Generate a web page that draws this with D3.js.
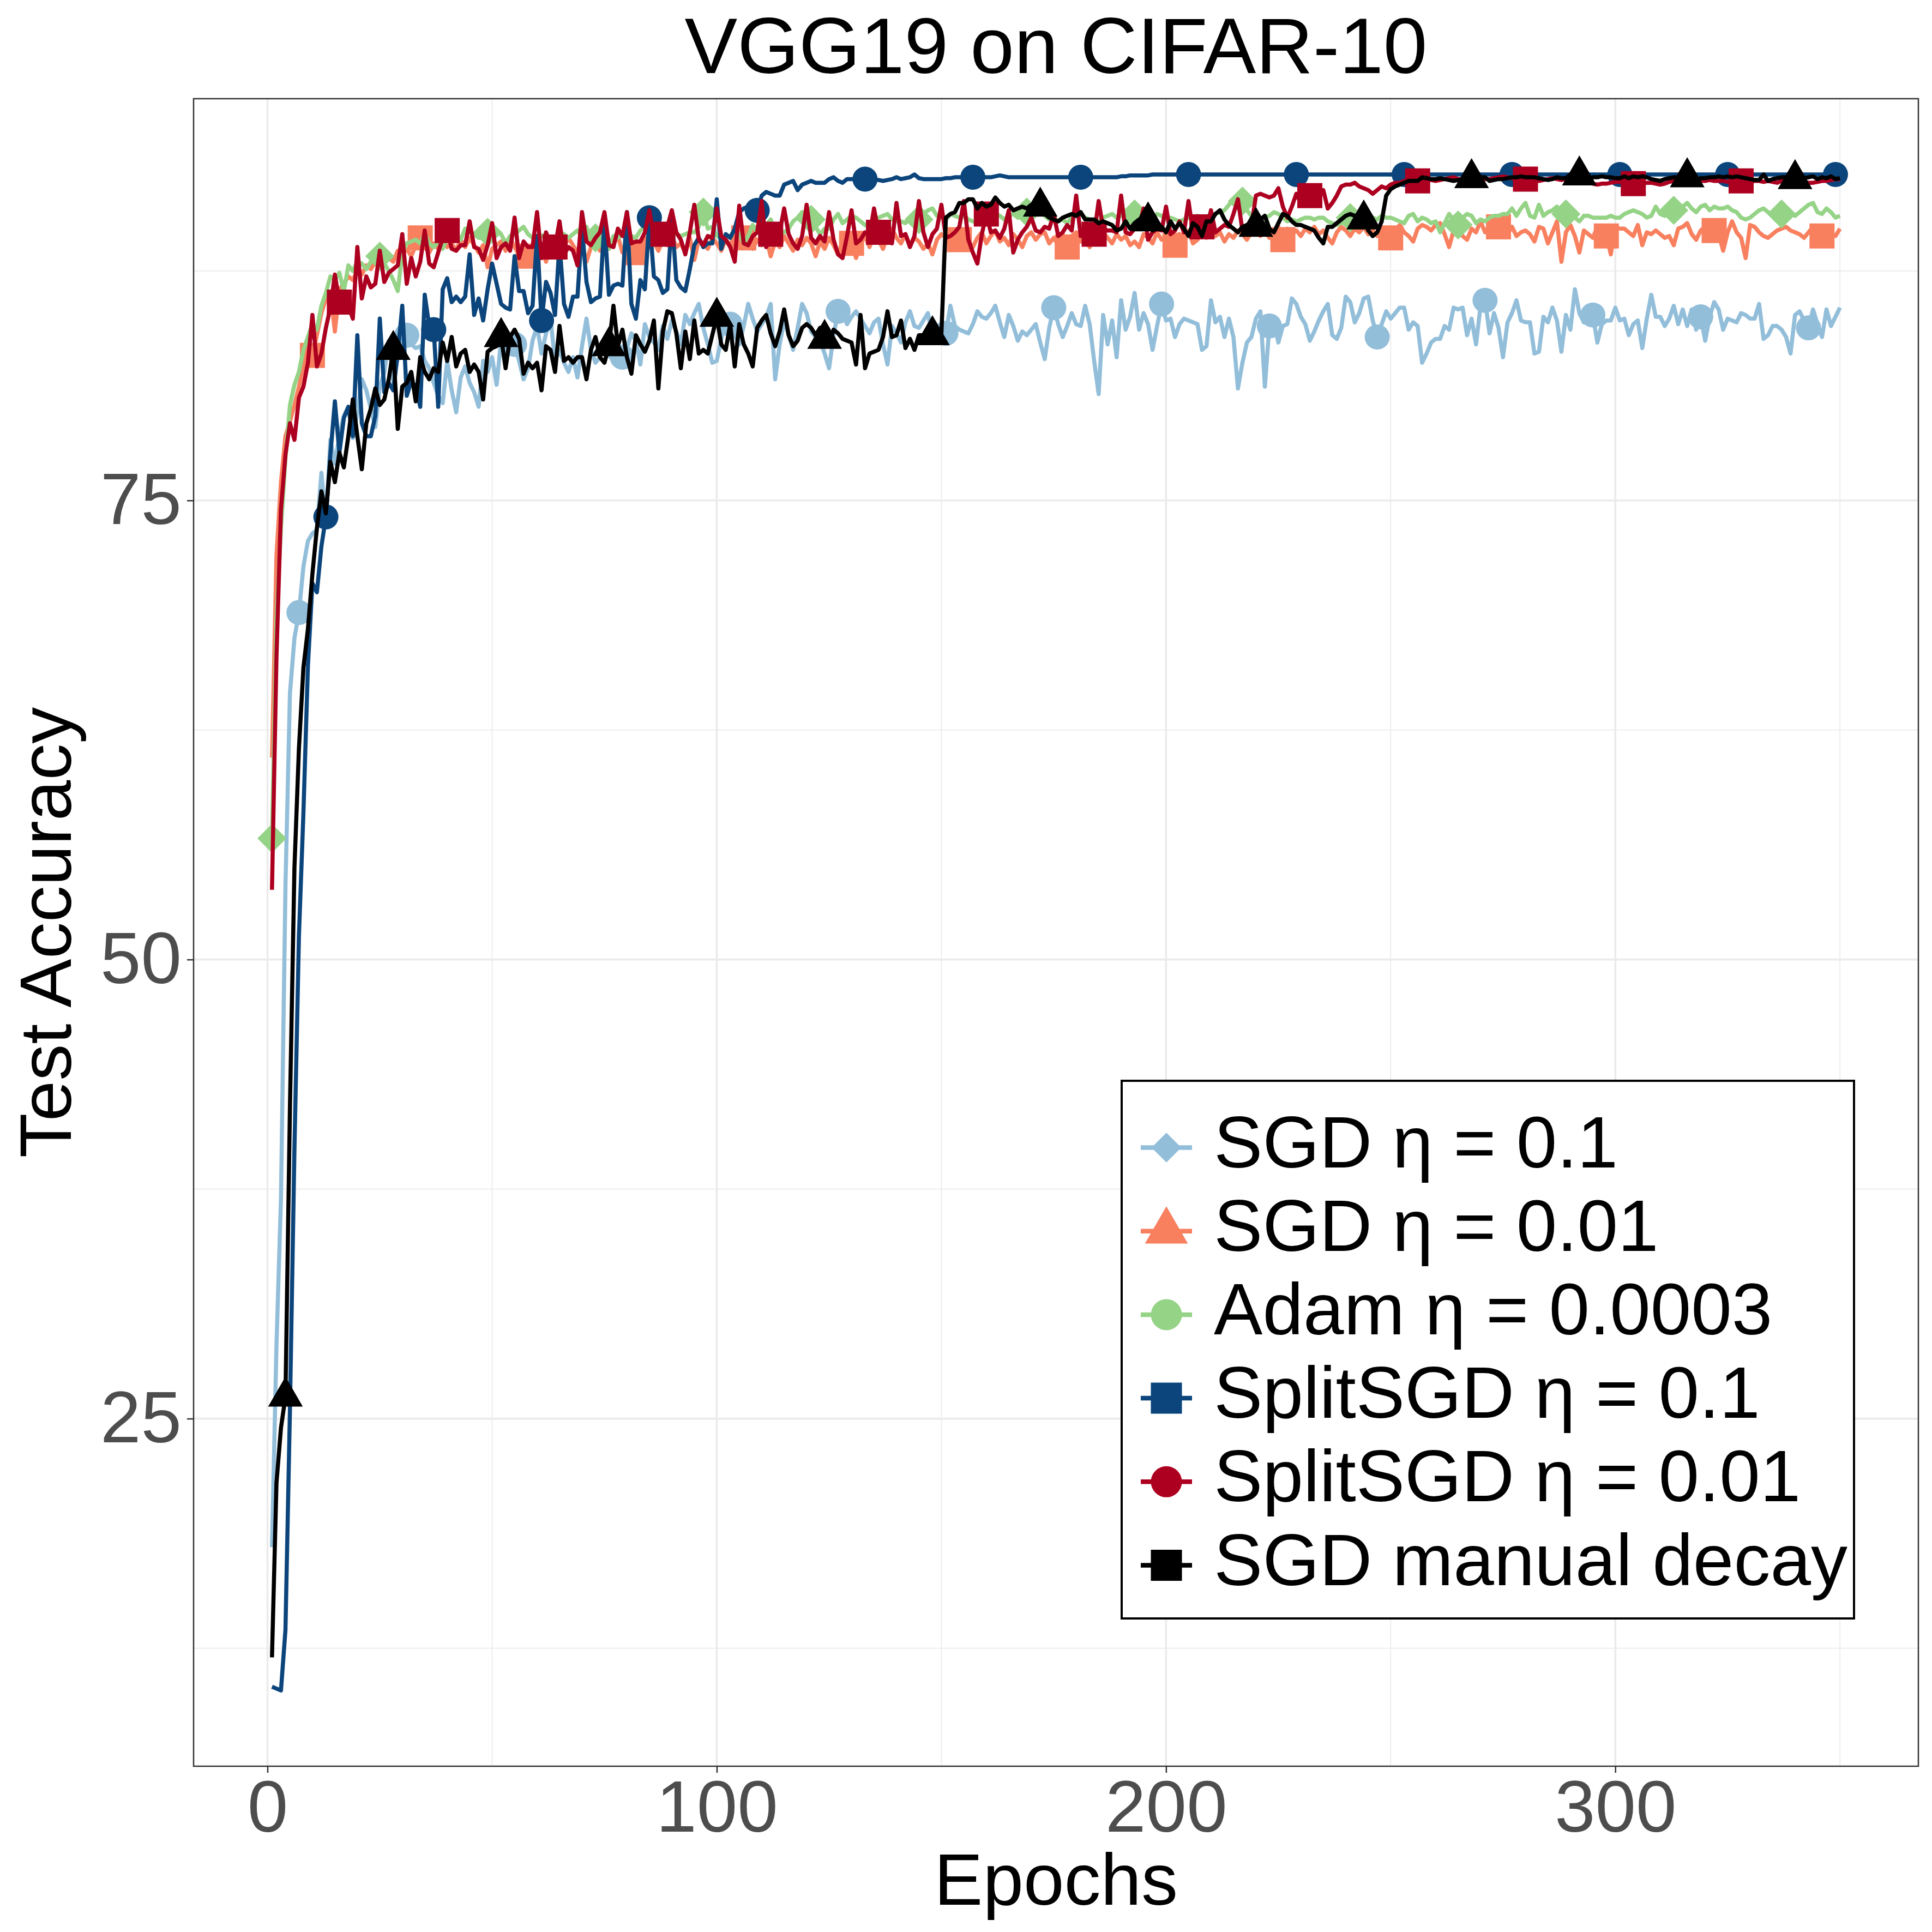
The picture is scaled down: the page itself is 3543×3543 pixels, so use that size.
<!DOCTYPE html>
<html>
<head>
<meta charset="utf-8">
<script src="https://cdn.jsdelivr.net/npm/d3@7"></script>
<style>
  html, body { margin: 0; padding: 0; background: #fff; }
  text { font-family: "Liberation Sans", Arial, Helvetica, sans-serif; }
</style>
</head>
<body>
<svg id="chart"></svg>
<script>
// test accuracy per epoch (1..350)
const sgd01 = [
  18,29,37,54,64.5,67.5,68.9,71.4,72.8,73.2,
  73.4,76.5,73.7,78.3,77.0,78.5,79.6,80.1,78.4,79.8,
  81.6,81.0,80.0,79.0,81.2,82.0,83.7,81.5,82.8,83.2,
  84.0,83.5,83.3,83.4,82.6,82.2,81.4,80.7,80.3,82.6,
  81.0,79.8,81.7,82.3,81.4,80.9,80.1,82.6,82.0,82.8,
  81.3,83.7,83.0,83.8,83.5,82.6,81.6,82.2,83.7,84.5,
  83.0,84.1,84.9,82.6,83.2,82.5,82.0,82.8,81.7,83.4,
  84.9,83.2,82.5,82.8,83.5,82.9,82.6,83.0,82.8,83.3,
  84.1,83.7,82.4,84.6,83.9,83.6,83.2,84.5,83.8,84.8,
  84.2,83.5,85.1,84.6,85.2,85.7,84.4,83.5,82.5,82.6,
  83.8,84.9,84.6,84.0,83.5,84.5,85.7,84.9,84.2,84.6,
  85.0,85.7,81.6,83.5,84.8,84.0,83.2,84.4,85.7,85.2,
  84.2,83.9,83.7,83.0,82.2,84.0,85.3,85.2,84.6,85.0,
  85.3,84.9,84.5,84.1,84.7,84.9,83.5,82.4,84.5,84.1,
  83.6,84.7,85.3,84.5,84.4,84.8,85.2,84.0,84.4,84.6,
  84.1,85.6,84.5,84.3,84.2,84.1,84.6,85.3,85.0,84.9,
  85.2,85.6,84.7,83.9,85.1,84.5,83.7,84.2,84.0,84.3,
  84.6,83.6,82.7,84.4,85.5,84.6,83.9,84.5,85.2,84.6,
  84.5,85.6,84.6,82.6,80.8,85.1,83.5,84.8,82.8,85.9,
  84.3,85.0,86.3,84.3,85.2,84.6,83.2,84.5,85.7,84.8,
  84.9,83.9,84.6,84.9,84.8,84.7,84.6,83.2,83.4,85.9,
  84.7,85.0,83.9,84.9,83.9,81.1,82.5,83.6,83.9,84.9,
  85.3,81.2,84.5,84.7,83.6,84.5,84.6,86.0,85.7,85.0,
  84.6,83.7,84.2,84.8,85.3,85.7,84.0,83.8,84.4,86.1,
  85.8,84.7,85.2,86.0,86.1,84.8,83.9,84.6,85.3,84.9,
  85.2,85.5,85.5,84.3,84.7,84.5,82.5,83.0,83.6,83.8,
  83.8,84.5,84.3,85.5,85.4,85.5,84.0,84.9,83.5,85.6,
  85.9,84.1,85.2,84.4,82.8,84.7,85.2,85.9,84.8,84.7,
  84.7,83.0,83.1,85.0,84.7,85.5,84.8,83.1,85.1,84.3,
  86.5,85.2,84.7,85.1,85.1,83.6,84.6,84.8,84.8,85.5,
  84.8,84.9,84.0,84.6,84.8,83.3,84.9,86.2,85.0,85.0,
  84.5,84.9,85.6,84.6,85.4,84.5,85.4,84.3,85.0,83.7,
  85.0,85.8,85.4,84.3,84.9,84.8,84.7,85.2,85.1,84.9,
  84.9,85.7,83.8,84.0,84.5,84.5,84.3,83.9,83.0,85.1,
  85.3,84.8,84.4,85.4,84.6,83.9,85.4,84.5,85.0,85.5
];

const sgd001 = [
  61,72,76,78.5,79.3,80.2,81.2,82.3,82.6,82.9,
  84.0,85.2,86.0,86.3,84.2,86.5,86.8,87.2,87.0,87.5,
  87.3,87.8,87.6,88.0,88.3,87.9,88.2,88.0,88.6,88.4,
  88.7,88.3,88.9,89.3,88.8,88.5,89.0,88.7,89.2,88.8,
  89.0,88.6,89.2,88.8,89.3,88.9,88.5,88.9,87.7,88.7,
  88.9,89.1,88.6,89.3,88.8,88.4,89.0,88.3,88.9,89.2,
  88.7,88.0,89.0,88.6,89.2,88.8,89.3,88.9,88.5,89.0,
  88.0,88.8,89.2,88.6,89.1,88.7,89.0,89.4,88.5,88.9,
  89.2,88.5,88.9,89.3,88.8,89.1,88.6,89.2,88.9,89.4,
  88.8,89.0,88.5,89.3,88.1,89.2,89.0,88.7,89.3,89.0,
  88.6,89.2,88.9,89.4,88.8,89.3,89.0,88.7,89.2,88.9,
  89.3,88.3,89.1,88.8,89.4,89.0,88.6,89.2,88.9,89.3,
  89.0,88.3,89.1,88.7,89.3,88.9,88.4,89.1,88.8,89.0,
  88.2,89.0,89.4,88.8,89.5,89.2,88.7,89.4,89.8,89.3,
  89.0,89.5,88.9,89.3,89.1,88.7,89.0,88.4,89.2,89.5,
  89.3,88.9,89.4,89.2,89.6,89.1,88.8,89.3,89.6,89.0,
  89.4,89.7,89.1,89.3,88.9,89.5,89.2,88.8,89.4,89.6,
  89.2,89.5,89.6,89.0,89.3,88.9,89.5,88.8,89.4,89.6,
  89.1,89.3,88.8,89.4,89.0,89.6,89.3,89.0,89.5,89.2,
  89.4,88.9,89.1,88.8,89.5,89.3,89.0,89.6,89.2,89.4,
  89.0,88.9,89.5,89.3,89.7,89.0,89.2,89.6,89.3,89.8,
  89.4,89.6,89.1,89.5,89.3,89.7,89.5,89.2,89.6,89.8,
  89.4,89.7,89.3,89.6,89.9,89.2,89.8,89.5,89.7,89.4,
  89.8,89.6,89.9,89.5,89.7,89.3,89.0,89.6,89.9,89.7,
  89.4,89.8,89.6,89.9,89.5,89.7,89.4,89.8,89.6,89.3,
  89.7,90.0,89.6,89.4,89.1,89.8,90.0,89.9,89.7,90.0,
  90.1,89.5,88.8,89.7,89.9,89.4,89.2,89.8,89.6,90.2,
  89.6,90.0,89.7,89.9,89.8,89.5,89.9,89.4,89.6,89.7,
  89.5,89.1,89.9,89.8,89.0,89.6,90.2,88.0,89.6,90.0,
  89.4,88.5,89.7,89.5,89.3,89.9,89.6,89.4,88.4,89.9,
  89.8,89.8,89.6,89.4,90.0,88.9,89.6,89.5,89.7,89.5,
  89.3,89.4,88.9,89.8,89.9,90.1,89.5,89.2,89.7,89.9,
  90.0,89.7,89.5,88.6,89.6,90.2,89.6,89.3,88.2,90.0,
  89.9,89.6,89.4,89.3,89.5,89.7,89.8,89.9,89.7,89.6,
  89.5,89.3,89.6,89.9,89.5,89.4,89.6,89.5,89.4,89.8
];

const adam = [
  56.6,68.5,73.5,77.3,80.2,81.3,82.0,83.2,83.9,84.6,
  84.3,85.6,86.3,87.2,87.0,87.4,86.4,87.8,87.5,88.0,
  87.9,87.6,88.0,88.2,88.3,87.9,87.5,87.0,86.4,88.5,
  89.0,89.1,89.2,89.0,89.5,89.0,88.8,89.1,88.7,89.3,
  89.4,89.5,89.2,89.8,89.6,89.5,89.3,89.3,89.6,89.8,
  89.7,89.5,89.0,89.4,89.5,89.7,89.9,89.5,89.3,89.1,
  89.4,89.5,89.2,89.0,89.6,89.5,89.3,89.5,89.7,89.4,
  89.9,89.1,89.3,89.6,89.8,88.7,89.4,89.3,89.5,89.6,
  89.4,89.3,89.7,89.9,89.6,89.5,89.3,89.4,89.9,89.6,
  89.5,89.4,89.5,89.6,89.6,89.9,90.7,89.8,89.9,89.4,
  89.3,89.3,89.4,89.7,89.5,89.0,89.4,90.0,89.6,89.5,
  90.0,90.3,89.6,89.5,89.6,89.8,90.2,90.4,90.7,90.4,
  90.3,89.9,89.5,89.8,89.8,90.3,90.6,90.1,90.3,90.5,
  90.4,90.2,90.0,89.9,90.3,90.4,90.5,90.6,90.3,90.2,
  90.2,90.1,90.4,90.5,90.3,90.6,90.8,90.9,90.5,90.4,
  90.3,90.6,90.5,90.4,90.5,90.3,90.2,90.1,90.4,90.5,
  90.4,90.6,90.5,90.3,90.5,90.6,90.4,90.5,90.7,90.6,
  90.6,90.8,90.5,90.3,90.4,90.2,90.3,90.1,90.4,90.5,
  90.6,90.4,90.3,90.2,90.2,90.4,90.5,90.6,90.4,90.5,
  90.7,90.8,90.6,90.3,90.5,90.6,90.4,90.6,90.5,90.3,
  90.4,90.3,90.2,90.3,90.4,90.4,90.5,90.3,90.4,90.6,
  90.6,90.7,90.8,91.1,91.4,91.2,91.3,90.8,90.5,90.4,
  90.3,90.4,90.5,90.7,90.6,90.4,90.2,90.3,90.2,90.3,
  90.4,90.4,90.3,90.4,90.4,90.2,90.1,90.0,90.1,90.3,
  90.4,90.3,90.2,90.4,90.6,90.4,90.3,90.5,90.4,90.4,
  90.3,90.2,90.1,90.5,90.6,90.2,90.4,90.3,90.1,90.2,
  89.6,90.1,90.6,90.3,90.0,90.4,90.6,90.5,90.1,90.3,
  90.2,90.4,90.5,90.5,90.6,90.6,90.9,90.5,90.9,91.2,
  90.5,90.4,91.1,90.5,90.7,90.8,91.0,90.6,90.6,90.4,
  90.4,90.2,90.5,90.5,90.4,90.4,90.4,90.4,90.5,90.4,
  90.4,90.6,90.7,90.8,90.7,90.6,90.4,90.5,91.0,90.6,
  90.5,90.6,90.8,90.9,91.0,91.2,90.9,90.7,91.0,91.1,
  90.8,91.0,90.9,90.9,91.0,90.8,90.7,90.4,90.3,90.4,
  90.6,90.8,90.9,90.7,90.6,90.5,90.6,90.9,90.7,90.5,
  90.7,90.9,91.1,91.2,90.7,90.6,90.9,90.7,90.4,90.5
];

const split01 = [
  10.4,10.3,10.2,13.5,25.5,39.7,51.3,58.0,66.0,70.5,
  70.0,72.5,74.1,77.5,80.4,77.6,79.5,80.1,78.5,84.0,
  79.2,78.5,78.5,79.6,84.9,80.9,81.4,81.0,83.0,85.6,
  80.7,81.5,81.2,80.1,86.2,84.5,84.3,80.1,86.5,87.1,
  85.8,86.1,85.8,86.1,88.4,85.1,86.0,84.8,86.5,87.9,
  86.8,85.7,85.5,85.4,88.3,86.4,86.4,85.2,85.6,89.4,
  84.8,86.9,86.3,85.1,89.0,85.7,85.0,86.1,86.1,89.9,
  86.9,85.8,86.0,86.1,90.2,86.2,86.7,86.8,86.7,90.7,
  85.7,84.9,87.0,86.5,90.4,87.2,87.0,86.3,86.5,90.4,
  87.0,86.6,86.4,87.6,88.9,89.3,88.8,89.0,89.0,91.4,
  88.7,89.5,89.3,89.8,90.7,90.9,91.0,90.8,90.8,91.6,
  91.8,91.7,91.6,91.6,92.2,92.3,92.4,91.9,92.2,92.3,
  92.4,92.3,92.3,92.3,92.5,92.6,92.4,92.3,92.5,92.5,
  92.5,92.2,92.5,92.5,92.45,92.45,92.4,92.45,92.5,92.6,
  92.5,92.55,92.6,92.75,92.55,92.5,92.5,92.5,92.5,92.5,
  92.55,92.55,92.6,92.6,92.6,92.6,92.6,92.65,92.6,92.6,
  92.6,92.65,92.7,92.65,92.6,92.6,92.6,92.6,92.6,92.6,
  92.6,92.6,92.6,92.6,92.6,92.6,92.6,92.6,92.6,92.6,
  92.6,92.6,92.6,92.6,92.6,92.6,92.6,92.6,92.6,92.65,
  92.65,92.7,92.7,92.7,92.7,92.7,92.75,92.75,92.75,92.75,
  92.75,92.75,92.75,92.75,92.75,92.75,92.75,92.75,92.75,92.75,
  92.75,92.75,92.75,92.75,92.75,92.75,92.75,92.75,92.75,92.75,
  92.75,92.75,92.75,92.75,92.75,92.75,92.75,92.75,92.75,92.75,
  92.75,92.75,92.75,92.75,92.75,92.75,92.75,92.75,92.75,92.75,
  92.75,92.75,92.75,92.75,92.75,92.75,92.75,92.75,92.75,92.75,
  92.75,92.75,92.75,92.75,92.75,92.75,92.75,92.75,92.75,92.75,
  92.75,92.75,92.75,92.75,92.75,92.75,92.75,92.75,92.75,92.75,
  92.75,92.75,92.75,92.75,92.75,92.75,92.75,92.75,92.75,92.75,
  92.75,92.75,92.75,92.75,92.75,92.75,92.75,92.75,92.75,92.75,
  92.75,92.75,92.75,92.75,92.75,92.75,92.75,92.75,92.75,92.75,
  92.75,92.75,92.75,92.75,92.75,92.75,92.75,92.75,92.75,92.75,
  92.75,92.75,92.75,92.75,92.75,92.75,92.75,92.75,92.75,92.75,
  92.75,92.75,92.75,92.75,92.75,92.75,92.75,92.75,92.75,92.75,
  92.75,92.75,92.75,92.75,92.75,92.75,92.75,92.75,92.75,92.75,
  92.75,92.75,92.75,92.75,92.75,92.75,92.75,92.75,92.75,92.75
];

const split001 = [
  53.8,66.5,74.5,77.5,79.2,78.3,80.6,81.2,82.5,85.1,
  82.3,83.0,84.4,85.5,87.3,85.8,85.9,85.6,84.9,88.8,
  86.0,87.2,86.6,86.8,88.6,86.9,87.4,87.6,87.8,89.5,
  86.8,88.2,87.2,88.0,89.7,87.9,87.7,88.5,89.3,89.7,
  88.7,88.6,88.9,88.9,90.2,88.8,88.7,88.1,88.9,90.1,
  88.2,88.8,89.0,88.6,90.4,88.2,89.1,88.8,88.8,90.7,
  88.2,89.6,88.9,88.8,90.2,88.4,88.8,88.6,87.8,90.7,
  89.1,88.9,89.3,89.6,90.7,88.9,88.8,89.8,89.4,90.7,
  89.0,89.1,89.1,89.6,90.8,89.3,89.0,89.5,89.9,90.8,
  89.6,89.2,88.4,89.6,91.1,89.2,88.9,89.4,89.3,90.9,
  89.4,89.2,88.8,88.0,91.05,89.0,88.9,89.4,89.6,91.3,
  88.8,89.5,89.3,89.6,90.9,89.5,89.0,88.7,89.4,91.1,
  89.3,89.0,89.4,89.1,90.7,89.2,88.4,88.2,89.4,90.8,
  89.0,89.2,89.6,89.4,90.9,89.6,89.5,89.6,89.0,91.2,
  89.4,89.5,88.8,89.4,91.3,89.6,88.8,89.5,89.8,91.1,
  89.3,89.4,89.6,89.9,91.3,89.2,88.5,87.9,89.5,90.6,
  89.6,89.7,89.3,89.8,90.8,88.5,89.2,89.6,89.9,90.4,
  89.7,89.6,89.9,89.8,90.6,89.4,89.6,90.0,89.7,91.6,
  89.4,90.0,89.8,89.5,91.3,89.8,89.7,89.7,89.6,91.6,
  89.6,89.5,89.8,89.9,90.9,89.2,89.6,89.8,89.7,91.0,
  89.5,89.7,90.2,89.6,91.3,89.6,89.9,89.9,89.8,90.8,
  89.6,89.8,90.0,89.9,90.6,91.4,89.7,90.0,89.9,91.6,
  91.7,91.6,91.5,91.6,92.0,91.0,90.4,91.0,91.7,91.2,
  91.3,91.6,91.5,91.6,91.9,90.9,91.2,91.6,92.1,92.2,
  92.2,92.3,92.1,92.0,91.9,91.7,91.9,92.1,92.0,92.2,
  92.3,92.3,92.4,92.3,92.55,92.4,92.5,92.45,92.45,92.4,
  92.45,92.5,92.55,92.6,92.5,92.5,92.45,92.5,92.55,92.5,
  92.5,92.5,92.55,92.6,92.65,92.6,92.55,92.5,92.55,92.5,
  92.5,92.45,92.4,92.45,92.5,92.55,92.5,92.45,92.5,92.55,
  92.5,92.45,92.4,92.35,92.25,92.2,92.25,92.25,92.3,92.35,
  92.35,92.3,92.3,92.25,92.2,92.25,92.3,92.3,92.25,92.2,
  92.25,92.35,92.4,92.4,92.35,92.35,92.4,92.35,92.4,92.4,
  92.45,92.4,92.4,92.4,92.35,92.4,92.45,92.4,92.35,92.35,
  92.4,92.4,92.35,92.4,92.35,92.3,92.4,92.45,92.4,92.35,
  92.4,92.35,92.3,92.3,92.35,92.4,92.4,92.45,92.5,92.5
];

const manual = [
  12.0,21.5,24.5,26.2,42.0,55.0,61.5,65.9,68.0,71.0,
  73.5,75.5,74.3,77.1,76.0,77.6,76.8,78.5,80.5,78.5,
  76.7,79.2,80.0,81.1,80.2,80.5,81.6,83.2,78.9,81.2,
  81.4,82.0,80.4,82.8,82.0,81.6,82.2,82.0,83.6,82.6,
  83.9,82.3,83.0,83.2,82.0,82.4,82.0,80.5,83.1,83.3,
  83.4,83.9,82.2,83.9,84.3,83.8,81.9,82.5,82.2,82.5,
  81.0,83.4,83.2,82.0,84.5,82.6,82.8,82.5,82.8,82.8,
  81.6,83.2,83.9,82.8,82.5,83.4,85.6,83.4,84.3,82.8,
  81.9,84.0,83.5,83.1,83.7,84.8,81.1,84.2,85.3,85.2,
  84.1,82.2,84.2,82.7,84.8,83.0,83.2,83.0,84.0,85.0,
  83.5,83.2,84.6,82.3,84.6,83.5,83.0,82.3,84.4,84.8,
  85.1,84.1,83.4,84.2,85.4,84.0,83.4,83.7,84.4,84.6,
  84.4,84.0,84.4,83.8,83.4,84.3,84.1,83.8,83.7,83.6,
  82.4,85.1,82.2,83.0,83.1,83.2,83.9,85.3,83.9,84.0,
  84.8,83.3,83.8,83.2,84.0,84.0,83.9,84.0,84.1,84.1,
  90.4,90.6,90.7,91.2,91.2,91.4,91.4,90.9,91.2,91.0,
  91.1,91.5,91.2,91.0,91.1,90.8,90.9,91.0,90.9,91.1,
  90.9,91.0,90.6,90.4,90.3,90.2,90.4,90.5,90.6,90.5,
  90.7,90.3,90.3,90.3,90.1,90.2,90.1,90.0,89.7,89.8,
  90.2,89.8,90.1,90.3,90.2,90.2,89.7,90.0,89.9,89.6,
  90.2,89.8,90.1,89.8,89.4,90.1,89.9,89.4,90.2,90.2,
  90.6,90.8,90.3,90.0,89.8,89.6,89.9,90.0,90.1,89.9,
  90.3,90.5,89.8,89.6,90.1,90.6,90.5,90.2,90.0,90.0,
  89.9,89.8,89.7,89.3,89.0,89.9,89.9,90.1,90.3,90.5,
  90.6,90.5,90.4,90.3,89.7,89.4,89.6,90.2,91.6,91.95,
  92.1,92.2,92.3,92.4,92.4,92.4,92.6,92.55,92.5,92.5,
  92.55,92.5,92.45,92.4,92.45,92.45,92.5,92.55,92.55,92.6,
  92.6,92.4,92.45,92.5,92.5,92.55,92.6,92.6,92.65,92.6,
  92.6,92.6,92.55,92.5,92.45,92.5,92.6,92.55,92.55,92.75,
  92.7,92.7,92.6,92.55,92.6,92.6,92.65,92.6,92.6,92.55,
  92.55,92.65,92.55,92.65,92.6,92.65,92.6,92.5,92.45,92.4,
  92.5,92.55,92.6,92.6,92.5,92.6,92.5,92.5,92.55,92.55,
  92.6,92.6,92.65,92.6,92.65,92.6,92.65,92.6,92.55,92.5,
  92.45,92.45,92.75,92.4,92.5,92.55,92.6,92.6,92.55,92.5,
  92.5,92.55,92.6,92.65,92.5,92.6,92.55,92.65,92.5,92.55
];

const seriesValues = [sgd01, sgd001, adam, split01, split001, manual];
const legendLabels = [
  "SGD \u03B7 = 0.1",
  "SGD \u03B7 = 0.01",
  "Adam \u03B7 = 0.0003",
  "SplitSGD \u03B7 = 0.1",
  "SplitSGD \u03B7 = 0.01",
  "SGD manual decay"
];
const seriesColors = ["#92BEDA", "#F8805F", "#95D386", "#0B457C", "#AD0020", "#000000"];
// the figure's legend keys do not use the same shapes as the plotted markers
const plotShapes = ["circle", "square", "diamond", "circle", "square", "triangle"];
const legendShapes = ["diamond", "triangle", "circle", "square", "circle", "square"];
const markerStart = [7, 10, 1, 13, 16, 4];
const markerStep = 24;

const xTicks = [0, 100, 200, 300];
const xMinor = [50, 150, 250, 350];
const yTicks = [25, 50, 75];
const yMinor = [12.5, 37.5, 62.5, 87.5];

const width = 3543;
const height = 3543;
const panel = { left: 355, right: 3518, top: 181, bottom: 3239 };

const svg = d3.select("#chart").attr("width", width).attr("height", height);
svg.append("rect").attr("width", width).attr("height", height).attr("fill", "#fff");

const epochs = d3.range(1, sgd01.length + 1);

// ggplot style 5% expansion of the data range
const xExt = d3.extent(epochs);
const xPad = (xExt[1] - xExt[0]) * 0.05;
const yExt = d3.extent(seriesValues.flat());
const yPad = (yExt[1] - yExt[0]) * 0.05;

const x = d3.scaleLinear()
  .domain([xExt[0] - xPad, xExt[1] + xPad])
  .range([panel.left, panel.right]);
const y = d3.scaleLinear()
  .domain([yExt[0] - yPad, yExt[1] + yPad])
  .range([panel.bottom, panel.top]);

// grid
const grid = svg.append("g");
grid.selectAll(".ymin").data(yMinor).enter().append("line")
  .attr("x1", panel.left).attr("x2", panel.right)
  .attr("y1", (d) => y(d)).attr("y2", (d) => y(d))
  .attr("stroke", "#EBEBEB").attr("stroke-width", 1.8);
grid.selectAll(".xmin").data(xMinor).enter().append("line")
  .attr("y1", panel.top).attr("y2", panel.bottom)
  .attr("x1", (d) => x(d)).attr("x2", (d) => x(d))
  .attr("stroke", "#EBEBEB").attr("stroke-width", 1.8);
grid.selectAll(".ymaj").data(yTicks).enter().append("line")
  .attr("x1", panel.left).attr("x2", panel.right)
  .attr("y1", (d) => y(d)).attr("y2", (d) => y(d))
  .attr("stroke", "#EBEBEB").attr("stroke-width", 3.6);
grid.selectAll(".xmaj").data(xTicks).enter().append("line")
  .attr("y1", panel.top).attr("y2", panel.bottom)
  .attr("x1", (d) => x(d)).attr("x2", (d) => x(d))
  .attr("stroke", "#EBEBEB").attr("stroke-width", 3.6);

// marker shapes, centred on the point (triangle on its centroid)
const shapePath = (shape, s) => {
  if (shape === "circle") {
    return `M${-s},0A${s},${s} 0 1,0 ${s},0A${s},${s} 0 1,0 ${-s},0Z`;
  }
  if (shape === "square") {
    return `M${-s},${-s}H${s}V${s}H${-s}Z`;
  }
  if (shape === "triangle") {
    const a = s * 1.595;
    const hw = a * Math.sqrt(3) / 2;
    return `M0,${-a}L${hw},${a / 2}L${-hw},${a / 2}Z`;
  }
  // diamond
  const h = s * 1.16;
  return `M0,${-h}L${h},0L0,${h}L${-h},0Z`;
};

const line = d3.line()
  .x((d) => x(d[0]))
  .y((d) => y(d[1]));

const plotG = svg.append("g");
seriesValues.forEach((vals, i) => {
  const pts = vals.map((v, j) => [epochs[j], v]);
  plotG.append("path")
    .datum(pts)
    .attr("d", line)
    .attr("fill", "none")
    .attr("stroke", seriesColors[i])
    .attr("stroke-width", 7.5)
    .attr("stroke-linejoin", "round");

  const marks = pts.filter((p) => p[0] >= markerStart[i] && (p[0] - markerStart[i]) % markerStep === 0);
  plotG.selectAll(null)
    .data(marks)
    .enter()
    .append("path")
    .attr("transform", (d) => `translate(${x(d[0])},${y(d[1])})`)
    .attr("d", shapePath(plotShapes[i], 23))
    .attr("fill", seriesColors[i]);
});

// axes
const xAxis = d3.axisBottom(x).tickValues(xTicks).tickSize(12).tickPadding(13);
const xAxisG = svg.append("g")
  .attr("transform", `translate(0, ${panel.bottom})`)
  .call(xAxis);
xAxisG.select(".domain").remove();

const yAxis = d3.axisLeft(y).tickValues(yTicks).tickSize(12).tickPadding(10);
const yAxisG = svg.append("g")
  .attr("transform", `translate(${panel.left}, 0)`)
  .call(yAxis);
yAxisG.select(".domain").remove();

[xAxisG, yAxisG].forEach((g) => {
  g.attr("font-size", null).attr("font-family", null);
  g.selectAll(".tick line").attr("stroke", "#333333").attr("stroke-width", 2.5);
  g.selectAll(".tick text")
    .attr("fill", "#4D4D4D")
    .attr("font-size", 134)
    .attr("font-family", '"Liberation Sans", Arial, sans-serif');
});

// panel border
svg.append("rect")
  .attr("x", panel.left).attr("y", panel.top)
  .attr("width", panel.right - panel.left)
  .attr("height", panel.bottom - panel.top)
  .attr("fill", "none")
  .attr("stroke", "#333333")
  .attr("stroke-width", 2.5);

// titles
const midX = (panel.left + panel.right) / 2;
svg.append("text")
  .attr("x", midX).attr("y", 134)
  .attr("text-anchor", "middle")
  .attr("font-size", 145)
  .attr("fill", "#000")
  .text("VGG19 on CIFAR-10");

svg.append("text")
  .attr("x", midX).attr("y", 3493)
  .attr("text-anchor", "middle")
  .attr("font-size", 134)
  .attr("fill", "#000")
  .text("Epochs");

svg.append("text")
  .attr("transform", `translate(130, ${(panel.top + panel.bottom) / 2}) rotate(-90)`)
  .attr("text-anchor", "middle")
  .attr("font-size", 134)
  .attr("fill", "#000")
  .text("Test Accuracy");

// legend
const legend = { left: 2057, top: 1982, right: 3400, bottom: 2968, row0: 2104.5, rowStep: 153.2 };
const legendG = svg.append("g");
legendG.append("rect")
  .attr("x", legend.left).attr("y", legend.top)
  .attr("width", legend.right - legend.left)
  .attr("height", legend.bottom - legend.top)
  .attr("fill", "#fff")
  .attr("stroke", "#000")
  .attr("stroke-width", 4);

const keyX = 2139;
const rows = legendG.selectAll(".row")
  .data(legendLabels)
  .enter()
  .append("g")
  .attr("transform", (d, i) => `translate(0, ${legend.row0 + i * legend.rowStep})`);

rows.append("line")
  .attr("x1", keyX - 47).attr("x2", keyX + 47)
  .attr("stroke", (d, i) => seriesColors[i])
  .attr("stroke-width", 8.5);

rows.append("path")
  .attr("transform", `translate(${keyX}, 0)`)
  .attr("d", (d, i) => shapePath(legendShapes[i], legendShapes[i] === "diamond" ? 23.5 : 28.5))
  .attr("fill", (d, i) => seriesColors[i]);

rows.append("text")
  .attr("x", 2226)
  .attr("y", 36)
  .attr("font-size", 134)
  .attr("fill", "#000")
  .text((d) => d);
</script>
</body>
</html>
